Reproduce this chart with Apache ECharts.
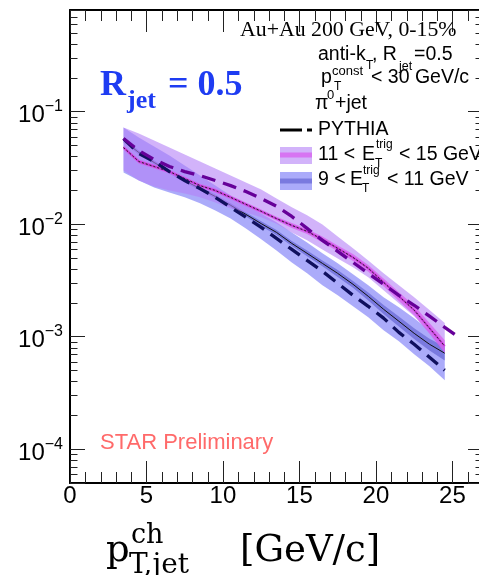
<!DOCTYPE html>
<html>
<head>
<meta charset="utf-8">
<script src="https://cdn.jsdelivr.net/npm/echarts@6/dist/echarts.min.js"></script>
<style>
html,body{margin:0;padding:0;background:#fff;}
#chart{width:479px;height:575px;}
</style>
</head>
<body>
<div id="chart"></div>
<script>
// ---------------- data ----------------
const xBins = [3.5,4.5,5.5,6.5,7.5,8.5,9.5,10.5,11.5,12.5,13.5,14.5,15.5,16.5,17.5,18.5,19.5,20.5,21.5,22.5,23.5,24.5];
// 11 < E_T^trig < 15 GeV
const hiMid = [0.0479,0.0360,0.0325,0.0293,0.0254,0.0220,0.0199,0.0173,0.0150,0.0130,0.0112,0.00974,0.00862,0.00732,0.00609,0.00506,0.00405,0.00304,0.00228,0.00172,0.00119,0.000822];
const hiSysUp = [0.0721,0.0638,0.0553,0.0479,0.0416,0.0360,0.0312,0.0270,0.0234,0.0203,0.0169,0.0141,0.0120,0.00994,0.00778,0.00609,0.00476,0.00365,0.00286,0.00224,0.00172,0.00132];
const hiSysLo = [0.0300,0.0244,0.0216,0.0199,0.0187,0.0173,0.0156,0.0138,0.0127,0.0115,0.0101,0.00844,0.00717,0.00596,0.00496,0.00413,0.00337,0.00258,0.00198,0.00152,0.00109,0.000727];
const hiStatRel = [0.04,0.04,0.04,0.04,0.04,0.04,0.04,0.04,0.04,0.04,0.04,0.05,0.05,0.06,0.06,0.07,0.07,0.08,0.09,0.10,0.11,0.13];
// 9 < E_T^trig < 11 GeV
const loMid = [0.0553,0.0433,0.0353,0.0293,0.0244,0.0207,0.0176,0.0147,0.0122,0.0101,0.00844,0.00674,0.00550,0.00448,0.00365,0.00292,0.00228,0.00175,0.00137,0.00107,0.000856,0.000712];
const loSysUp = [0.0721,0.0588,0.0489,0.0407,0.0332,0.0270,0.0220,0.0180,0.0150,0.0124,0.0104,0.00844,0.00688,0.00550,0.00448,0.00358,0.00286,0.00224,0.00182,0.00146,0.00114,0.000805];
const loSysLo = [0.0288,0.0244,0.0212,0.0191,0.0173,0.0153,0.0132,0.0112,0.00916,0.00732,0.00584,0.00457,0.00365,0.00286,0.00233,0.00186,0.00149,0.00114,0.000910,0.000698,0.000546,0.000410];
const loStatRel = [0.04,0.04,0.04,0.04,0.04,0.04,0.04,0.04,0.04,0.05,0.05,0.05,0.06,0.06,0.07,0.07,0.08,0.09,0.10,0.11,0.12,0.14];
// PYTHIA
const xPythiaHi = [3.5,4.5,5.5,6.5,7.5,8.5,9.5,10.5,11.5,12.5,13.5,14.5,15.5,16.5,17.5,18.5,19.5,20.5,21.5,22.5,23.5,24.5,25.5];
const pythiaHi = [0.0576,0.0451,0.0375,0.0325,0.0293,0.0270,0.0244,0.0220,0.0195,0.0169,0.0144,0.0117,0.00916,0.00717,0.00573,0.00457,0.00365,0.00292,0.00233,0.00190,0.00152,0.00121,0.000968];
const xPythiaLo = [3.5,4.5,5.5,6.5,7.5,8.5,9.5,10.5,11.5,12.5,13.5,14.5,15.5,16.5,17.5,18.5,19.5,20.5,21.5,22.5,23.5,24.5];
const pythiaLo = [0.0576,0.0424,0.0360,0.0293,0.0244,0.0207,0.0173,0.0141,0.0115,0.00935,0.00747,0.00596,0.00476,0.00381,0.00298,0.00233,0.00186,0.00146,0.00109,0.000856,0.000657,0.000503];
// axes
const xTickLabels = [0,5,10,15,20,25];
const yDecades = [-4,-3,-2,-1];

// ---------------- chart ----------------
const SANS = '"Liberation Sans", Arial, sans-serif';
const SERIF = '"Liberation Serif", "Times New Roman", serif';
const MSERIF = '"DejaVu Serif", serif';
const X_MIN = 0, X_MAX = 27, Y_MIN = 5e-5, Y_MAX = 0.8;

function pairs(xs, ys) { return xs.map((x, i) => [x, ys[i]]); }

function band(name, xs, lo, hi, color, z) {
  return {
    type: 'custom', name, coordinateSystem: 'cartesian2d', z, silent: true,
    data: [[xs[0], hi[0]]],
    renderItem: function (params, api) {
      const pts = [];
      for (let i = 0; i < xs.length; i++) pts.push(api.coord([xs[i], hi[i]]));
      for (let i = xs.length - 1; i >= 0; i--) pts.push(api.coord([xs[i], lo[i]]));
      return { type: 'polygon', shape: { points: pts }, style: { fill: color } };
    }
  };
}
function line(name, xs, ys, color, width, dash, z) {
  return {
    type: 'line', name, data: pairs(xs, ys), symbol: 'none', showSymbol: false, z, silent: true,
    lineStyle: { color, width, type: dash }
  };
}
const hiStatLo = hiMid.map((v, i) => v * (1 - hiStatRel[i]));
const hiStatHi = hiMid.map((v, i) => v * (1 + hiStatRel[i]));
const loStatLo = loMid.map((v, i) => v * (1 - loStatRel[i]));
const loStatHi = loMid.map((v, i) => v * (1 + loStatRel[i]));

// minor ticks on all four sides
const minorTicks = {
  type: 'custom', coordinateSystem: 'cartesian2d', z: 20, silent: true,
  data: [[1, 0.01]],
  renderItem: function (params, api) {
    const cs = params.coordSys;
    const top = cs.y, bottom = cs.y + cs.height, left = cs.x, right = cs.x + cs.width;
    const ch = [];
    const st = { stroke: '#222', lineWidth: 1 };
    for (let x = 1; x < X_MAX; x++) {
      if (x % 5 === 0) continue;
      const px = Math.round(api.coord([x, 0.01])[0]) + 0.5;
      ch.push({ type: 'line', shape: { x1: px, y1: bottom, x2: px, y2: bottom - 11 }, style: st });
      ch.push({ type: 'line', shape: { x1: px, y1: top, x2: px, y2: top + 11 }, style: st });
    }
    for (let k = -5; k <= -1; k++) {
      for (let m = 2; m <= 9; m++) {
        const v = m * Math.pow(10, k);
        if (v <= Y_MIN || v >= Y_MAX) continue;
        const py = Math.round(api.coord([1, v])[1]) + 0.5;
        ch.push({ type: 'line', shape: { x1: left, y1: py, x2: left + 7.5, y2: py }, style: st });
        ch.push({ type: 'line', shape: { x1: right, y1: py, x2: right - 7.5, y2: py }, style: st });
      }
    }
    return { type: 'group', children: ch };
  }
};

function T(text, x, y, size, fam, o) {
  o = o || {};
  return {
    type: 'text', x, y, z: 100, silent: true,
    style: {
      text, font: (o.bold ? 'bold ' : '') + size + 'px ' + fam, fill: o.color || '#000',
      textAlign: 'left', textVerticalAlign: 'middle', align: 'left', verticalAlign: 'middle'
    }
  };
}
const BLUE_TXT = '#1e3cf2';
const C_PURPLE_SYS = 'rgba(180,128,246,0.6)';
const C_BLUE_SYS = 'rgba(128,128,248,0.66)';
const C_MAG_STAT = 'rgba(216,90,238,0.7)';
const C_BLUE_STAT = 'rgba(90,90,205,0.6)';

const graphics = [
  T('Au+Au 200 GeV, 0-15%', 240, 30, 21.8, SERIF),
  T('anti-k', 318, 55, 19.5, SANS), T('T', 366, 65.5, 12, SANS), T(', R', 372, 55, 19.5, SANS),
  T('jet', 399, 67, 12.5, SANS), T('=0.5', 414, 55, 19.5, SANS),
  T('p', 321, 78, 19.5, SANS), T('const', 332, 71, 13, SANS), T('T', 334, 87, 12, SANS),
  T('< 30 GeV/c', 371, 78, 19.5, SANS),
  T('\u03c0', 315, 104, 19.5, SANS), T('0', 327, 95, 13, SANS), T('+jet', 335, 104, 19.5, SANS),
  // legend
  { type: 'line', z: 100, shape: { x1: 280, y1: 130, x2: 302, y2: 130 }, style: { stroke: '#000', lineWidth: 3 } },
  { type: 'line', z: 100, shape: { x1: 307, y1: 130, x2: 312, y2: 130 }, style: { stroke: '#000', lineWidth: 3 } },
  T('PYTHIA', 318, 130, 19.5, SANS),
  { type: 'rect', z: 100, shape: { x: 280, y: 147, width: 32, height: 17 }, style: { fill: C_PURPLE_SYS } },
  { type: 'rect', z: 101, shape: { x: 280, y: 152.5, width: 32, height: 5 }, style: { fill: C_MAG_STAT } },
  T('11 <', 318, 155, 19.5, SANS), T('E', 362, 155, 19.5, SANS), T('T', 375, 164, 12, SANS),
  T('trig', 376, 145, 12, SANS), T('< 15 GeV', 399, 155, 19.5, SANS),
  { type: 'rect', z: 100, shape: { x: 280, y: 172, width: 32, height: 18 }, style: { fill: C_BLUE_SYS } },
  { type: 'rect', z: 101, shape: { x: 280, y: 178.5, width: 32, height: 5 }, style: { fill: C_BLUE_STAT } },
  T('9 <', 318, 180, 19.5, SANS), T('E', 350, 180, 19.5, SANS), T('T', 362, 189, 12, SANS),
  T('trig', 363, 171, 12, SANS), T('< 11 GeV', 387, 180, 19.5, SANS),
  // R_jet
  T('R', 100, 86, 36, SERIF, { bold: true, color: BLUE_TXT }),
  T('jet', 127, 101, 26, SERIF, { bold: true, color: BLUE_TXT }),
  T('= 0.5', 168, 86, 36, SERIF, { bold: true, color: BLUE_TXT }),
  // STAR
  T('STAR Preliminary', 100, 443, 22, SANS, { color: '#ff6a6a' }),
  // x axis title
  T('p', 106, 551, 37, MSERIF), T('ch', 131, 536, 27, MSERIF), T('T,jet', 129, 566, 28, MSERIF),
  T('[GeV/c]', 240, 551, 37, MSERIF)
];

const axisCommonX = {
  type: 'value', min: X_MIN, max: X_MAX, interval: 5,
  axisLine: { show: true, onZero: false, lineStyle: { color: '#000', width: 2 } },
  axisTick: { show: true, inside: true, length: 22, lineStyle: { color: '#222', width: 1 } },
  splitLine: { show: false }
};
const axisCommonY = {
  type: 'log', logBase: 10, min: Y_MIN, max: Y_MAX,
  axisLine: { show: true, onZero: false, lineStyle: { color: '#000', width: 2 } },
  axisTick: { show: true, inside: true, length: 15, lineStyle: { color: '#222', width: 1 } },
  splitLine: { show: false }
};

const option = {
  animation: false,
  backgroundColor: '#fff',
  grid: { left: 70, top: 10, width: 413, height: 473, containLabel: false, outerBoundsMode: 'none' },
  xAxis: [
    Object.assign({}, axisCommonX, {
      position: 'bottom',
      axisLabel: {
        show: true, margin: 1, fontSize: 24, fontFamily: SANS, color: '#000',
        formatter: v => (xTickLabels.indexOf(v) >= 0 ? String(v) : '')
      }
    }),
    Object.assign({}, axisCommonX, { position: 'top', axisLabel: { show: false } })
  ],
  yAxis: [
    Object.assign({}, axisCommonY, {
      position: 'left',
      axisLabel: {
        show: true, margin: 7, color: '#000',
        formatter: v => {
          const e = Math.log10(v), r = Math.round(e);
          if (Math.abs(e - r) > 1e-6 || yDecades.indexOf(r) < 0) return '';
          return '{b|10}{s|' + (r < 0 ? '\u2212' : '') + Math.abs(r) + '}';
        },
        rich: {
          b: { fontSize: 24, fontFamily: SANS, color: '#000', padding: [8, 0, 0, 0] },
          s: { fontSize: 16, fontFamily: SANS, color: '#000', padding: [0, 0, 10, 0] }
        }
      }
    }),
    Object.assign({}, axisCommonY, { position: 'right', axisLabel: { show: false } })
  ],
  series: [
    band('blue sys', xBins, loSysLo, loSysUp, C_BLUE_SYS, 1),
    band('blue stat', xBins, loStatLo, loStatHi, C_BLUE_STAT, 2),
    line('blue mid', xBins, loMid, '#111', 1, 'solid', 3),
    band('purple sys', xBins, hiSysLo, hiSysUp, C_PURPLE_SYS, 4),
    band('magenta stat', xBins, hiStatLo, hiStatHi, C_MAG_STAT, 5),
    line('magenta mid', xBins, hiMid, '#c838d8', 2, 'solid', 6),
    line('magenta mid dots', xBins, hiMid, '#222', 1, [2, 2], 7),
    line('PYTHIA 9-11', xPythiaLo, pythiaLo, '#10105e', 3.3, [14, 8], 8),
    line('PYTHIA 11-15', xPythiaHi, pythiaHi, '#660099', 3.3, [14, 8], 9),
    minorTicks
  ],
  graphic: graphics
};

const chart = echarts.init(document.getElementById('chart'), null, { renderer: 'canvas' });
chart.setOption(option);
</script>
</body>
</html>
